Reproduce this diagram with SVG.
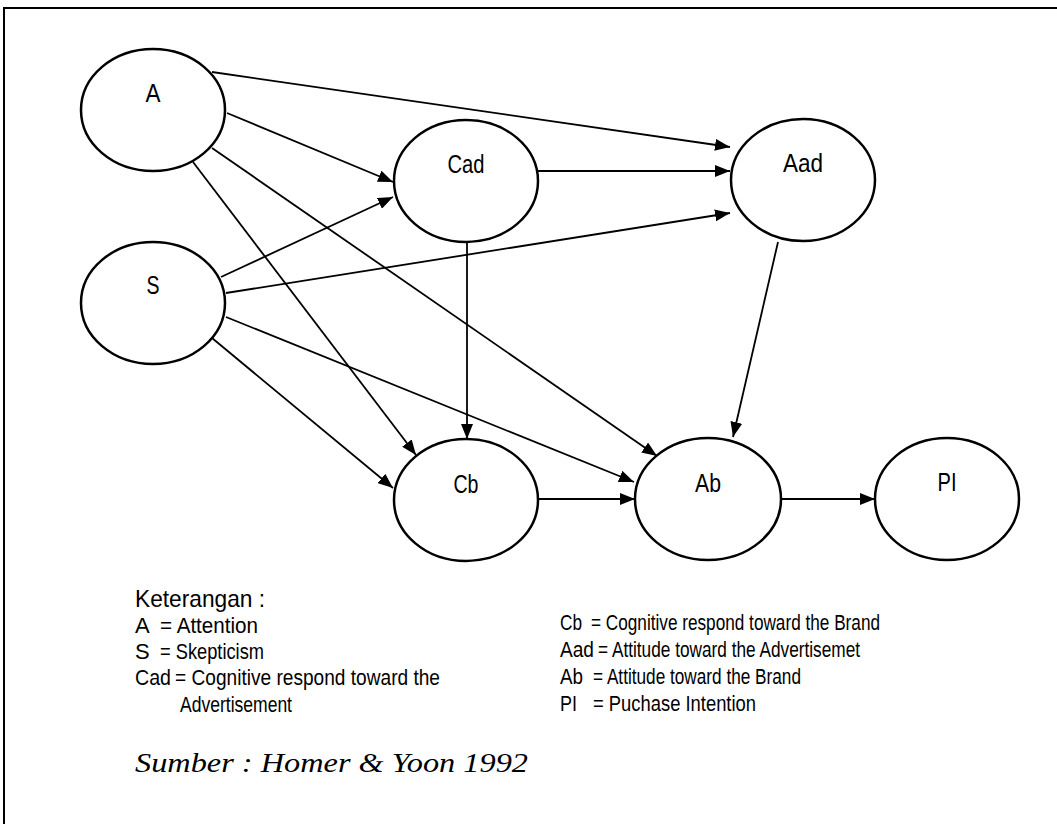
<svg xmlns="http://www.w3.org/2000/svg" width="1057" height="824" viewBox="0 0 1057 824">
<defs>
<marker id="ah" markerUnits="userSpaceOnUse" markerWidth="16" markerHeight="12" refX="15" refY="6" orient="auto">
<path d="M0,0 L15,6 L0,12 Z" fill="#000"/>
</marker>
<style>
.n{fill:#fff;stroke:#000;stroke-width:2.5}
.t{font-family:"Liberation Sans",Arial,sans-serif;font-size:25px;fill:#000;text-anchor:middle}
.c{stroke:#000;stroke-width:1.8;fill:none;marker-end:url(#ah)}
.l{font-family:"Liberation Sans",Arial,sans-serif;font-size:22px;fill:#000}
.k{font-family:"Liberation Sans",Arial,sans-serif;font-size:24px;fill:#000}
.s{font-family:"Liberation Serif","Times New Roman",serif;font-style:italic;font-size:27px;fill:#000}
</style>
</defs>
<rect width="1057" height="824" fill="#fff"/>
<path d="M4,824 V8 H1057" fill="none" stroke="#000" stroke-width="2"/>
<g id="connectors">
<line class="c" x1="212" y1="72" x2="730" y2="147"/>
<line class="c" x1="227" y1="113" x2="393" y2="182"/>
<line class="c" x1="212" y1="148" x2="657" y2="456"/>
<line class="c" x1="193" y1="162" x2="416" y2="455"/>
<line class="c" x1="221" y1="277" x2="393" y2="197"/>
<line class="c" x1="226" y1="293" x2="730" y2="213"/>
<line class="c" x1="226" y1="317" x2="634" y2="482"/>
<line class="c" x1="212" y1="338" x2="393" y2="488"/>
<line class="c" x1="538" y1="171" x2="730" y2="171"/>
<line class="c" x1="467" y1="241" x2="467" y2="439"/>
<line class="c" x1="778" y1="242" x2="733" y2="437"/>
<line class="c" x1="539" y1="499" x2="635" y2="499"/>
<line class="c" x1="781" y1="499" x2="875" y2="499"/>
</g>
<g id="node-A"><ellipse class="n" cx="153" cy="110" rx="72" ry="61"/><text class="t" x="153" y="102" textLength="15" lengthAdjust="spacingAndGlyphs">A</text></g>
<g id="node-S"><ellipse class="n" cx="153" cy="303" rx="72" ry="61"/><text class="t" x="153" y="294" textLength="13" lengthAdjust="spacingAndGlyphs">S</text></g>
<g id="node-Cad"><ellipse class="n" cx="466" cy="181" rx="72" ry="61"/><text class="t" x="466" y="173" textLength="37" lengthAdjust="spacingAndGlyphs">Cad</text></g>
<g id="node-Aad"><ellipse class="n" cx="803" cy="180" rx="72" ry="61"/><text class="t" x="803" y="172" textLength="40" lengthAdjust="spacingAndGlyphs">Aad</text></g>
<g id="node-Cb"><ellipse class="n" cx="466" cy="500" rx="72" ry="61"/><text class="t" x="466" y="493" textLength="25" lengthAdjust="spacingAndGlyphs">Cb</text></g>
<g id="node-Ab"><ellipse class="n" cx="708" cy="499" rx="73" ry="61"/><text class="t" x="708" y="492" textLength="26" lengthAdjust="spacingAndGlyphs">Ab</text></g>
<g id="node-PI"><ellipse class="n" cx="947" cy="499" rx="72" ry="61"/><text class="t" x="947" y="491" textLength="19" lengthAdjust="spacingAndGlyphs">PI</text></g>
<g id="legend">
<text class="k" x="135" y="607" textLength="130" lengthAdjust="spacingAndGlyphs">Keterangan :</text>
<text class="l" x="135" y="633">A</text><text class="l" x="160" y="633" textLength="98" lengthAdjust="spacingAndGlyphs">= Attention</text>
<text class="l" x="135" y="659">S</text><text class="l" x="160" y="659" textLength="104" lengthAdjust="spacingAndGlyphs">= Skepticism</text>
<text class="l" x="135" y="685" textLength="36" lengthAdjust="spacingAndGlyphs">Cad</text><text class="l" x="175" y="685" textLength="265" lengthAdjust="spacingAndGlyphs">= Cognitive  respond toward the</text>
<text class="l" x="180" y="712" textLength="112" lengthAdjust="spacingAndGlyphs">Advertisement</text>
<text class="l" x="560" y="630" textLength="22" lengthAdjust="spacingAndGlyphs">Cb</text><text class="l" x="591" y="630" textLength="289" lengthAdjust="spacingAndGlyphs">= Cognitive respond toward the Brand</text>
<text class="l" x="560" y="657" textLength="34" lengthAdjust="spacingAndGlyphs">Aad</text><text class="l" x="598" y="657" textLength="262" lengthAdjust="spacingAndGlyphs">= Attitude toward the Advertisemet</text>
<text class="l" x="560" y="684" textLength="23" lengthAdjust="spacingAndGlyphs">Ab</text><text class="l" x="593" y="684" textLength="208" lengthAdjust="spacingAndGlyphs">= Attitude toward the Brand</text>
<text class="l" x="560" y="711" textLength="17" lengthAdjust="spacingAndGlyphs">PI</text><text class="l" x="593" y="711" textLength="163" lengthAdjust="spacingAndGlyphs">= Puchase Intention</text>
<text class="s" x="135" y="772" textLength="393" lengthAdjust="spacingAndGlyphs">Sumber : Homer &amp; Yoon 1992</text>
</g>
</svg>
